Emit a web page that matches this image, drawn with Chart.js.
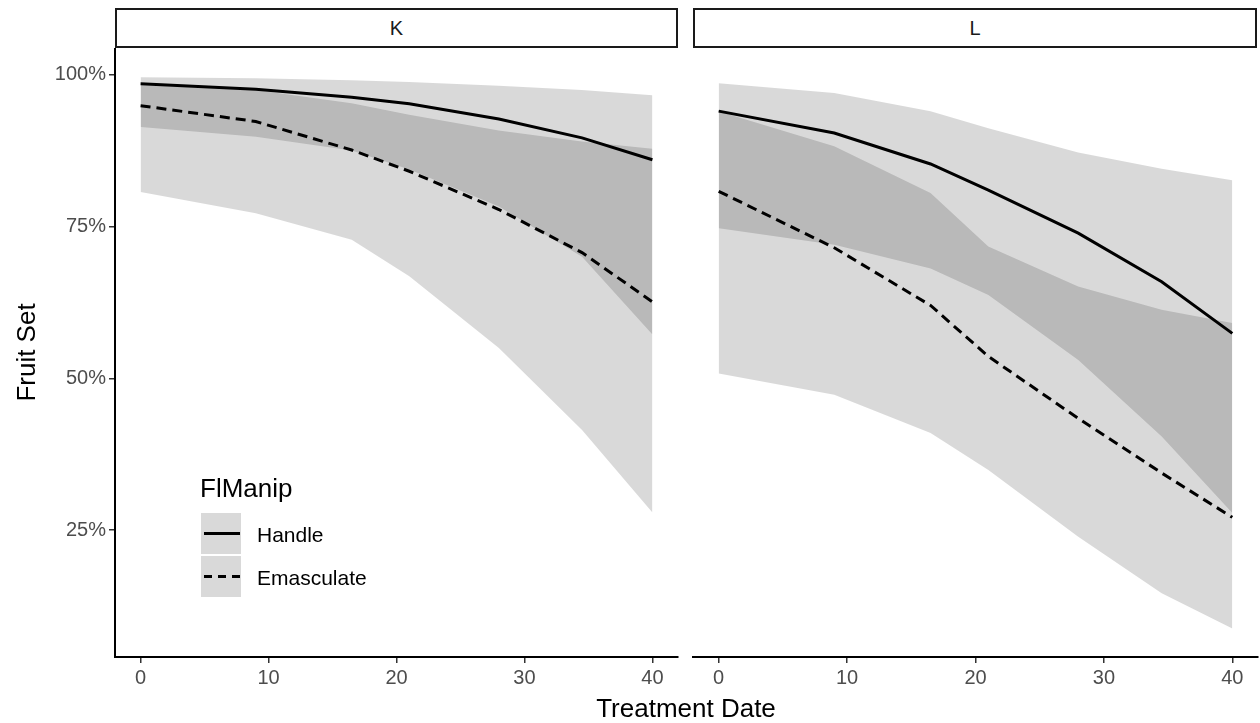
<!DOCTYPE html>
<html>
<head>
<meta charset="utf-8">
<script src="https://cdn.jsdelivr.net/npm/chart.js@4/dist/chart.umd.min.js"></script>
<style>
  body { margin: 0; background: #fff; font-family: "Liberation Sans", Arial, sans-serif; }
  #wrap { position: relative; width: 1260px; height: 723px; overflow: hidden; }
  canvas { position: absolute; }
  .strip { position: absolute; top: 8px; height: 40px; box-sizing: border-box; border: 2px solid #1a1a1a;
           background: #fff; font-size: 20px; color: #1a1a1a; text-align: center; line-height: 36px; }
  .txt { position: absolute; white-space: nowrap; color: #000; }
  .key { position: absolute; left: 201px; width: 40px; height: 41px; background: rgba(0,0,0,0.15); }
  .keyline { position: absolute; left: 3px; width: 36px; height: 3px; top: 19px; }
</style>
</head>
<body>
<div id="wrap">
  <div class="strip" style="left:115px;width:563px;">K</div>
  <div class="strip" style="left:693px;width:564px;">L</div>
  <canvas id="chartK" width="685" height="652" style="left:0;top:48px;"></canvas>
  <canvas id="chartL" width="575" height="652" style="left:685px;top:48px;"></canvas>
  <div class="txt" style="left:0;width:1372px;text-align:center;top:695px;font-size:26px;line-height:26px;">Treatment Date</div>
  <div class="txt" style="left:200px;top:475px;font-size:26px;line-height:26px;">FlManip</div>
  <div class="key" style="top:513px;"><div class="keyline" style="background:#000;"></div></div>
  <div class="key" style="top:556px;"><div class="keyline" style="background:repeating-linear-gradient(90deg,#000 0 8px,transparent 8px 14px);"></div></div>
  <div class="txt" style="left:257px;top:524px;font-size:21px;line-height:21px;">Handle</div>
  <div class="txt" style="left:257px;top:567px;font-size:21px;line-height:21px;">Emasculate</div>
</div>
<script>
// treatment dates (x)
const dates = [0, 9, 16.5, 21, 28, 34.5, 40];
const xTicks = [0, 10, 20, 30, 40];
const yTicks = [25, 50, 75, 100];

// panel K (fruit set, %)
const kHandle   = [98.5, 97.6, 96.3, 95.2, 92.7, 89.6, 86.0];
const kHandleHi = [99.6, 99.4, 99.1, 98.8, 98.2, 97.5, 96.6];
const kHandleLo = [91.4, 89.8, 87.5, 84.4, 78.3, 70.0, 57.2];
const kEmasc    = [94.9, 92.3, 87.6, 84.1, 77.8, 70.7, 62.6];
const kEmascHi  = [98.3, 97.5, 95.3, 93.4, 90.8, 89.0, 87.8];
const kEmascLo  = [80.7, 77.2, 72.8, 66.8, 55.0, 41.5, 27.9];

// panel L
const lHandle   = [94.0, 90.4, 85.3, 81.0, 73.9, 65.9, 57.4];
const lHandleHi = [98.6, 97.0, 94.0, 91.2, 87.2, 84.5, 82.6];
const lHandleLo = [74.7, 72.0, 68.1, 63.7, 53.0, 40.4, 27.8];
const lEmasc    = [80.8, 71.5, 62.0, 53.6, 43.4, 34.4, 27.1];
const lEmascHi  = [94.0, 88.2, 80.5, 71.7, 65.1, 61.3, 59.1];
const lEmascLo  = [50.8, 47.3, 41.0, 34.9, 23.9, 14.6, 8.8];

const FONT = '"Liberation Sans", Arial, sans-serif';
const ribbonFill = 'rgba(0,0,0,0.15)';

function pts(arr) {
    return dates.map((d, i) => ({ x: d, y: arr[i] }));
}

function lineSet(label, arr, dash) {
    return { label: label, data: pts(arr), borderColor: '#000', borderWidth: 3, borderDash: dash,
             pointRadius: 0, fill: false, tension: 0 };
}

function ribbon(hi, lo) {
    return [
        { data: pts(hi), borderWidth: 0, pointRadius: 0, fill: '+1', backgroundColor: ribbonFill, tension: 0 },
        { data: pts(lo), borderWidth: 0, pointRadius: 0, fill: false, tension: 0 }
    ];
}

function makeChart(id, h, hHi, hLo, e, eHi, eLo, showY) {
    const datasets = [
        lineSet('Handle', h, []),
        lineSet('Emasculate', e, [10, 6])
    ].concat(ribbon(hHi, hLo), ribbon(eHi, eLo));

    const ctx = document.getElementById(id).getContext('2d');
    return new Chart(ctx, {
        type: 'line',
        data: { datasets: datasets },
        options: {
            responsive: false,
            animation: false,
            layout: { padding: showY ? { left: 0, right: 7, top: 0, bottom: 0 } : { left: 8, right: 2, top: 0, bottom: 0 } },
            plugins: { legend: { display: false }, tooltip: { enabled: false } },
            scales: {
                x: {
                    type: 'linear', min: -2, max: 42,
                    afterBuildTicks: function(s) { s.ticks = xTicks.map(v => ({ value: v })); },
                    afterFit: function(s) { s.height = 43; s.paddingLeft = 0; s.paddingRight = 0; },
                    border: { display: true, color: '#000', width: 2 },
                    grid: { drawOnChartArea: false, drawTicks: true, tickLength: 6, color: '#333', lineWidth: 1.5 },
                    ticks: { font: { family: FONT, size: 20 }, color: '#4d4d4d', padding: 3, maxRotation: 0 }
                },
                y: {
                    type: 'linear', min: 4.1, max: 104.4, display: showY,
                    afterBuildTicks: function(s) { s.ticks = yTicks.map(v => ({ value: v })); },
                    afterFit: function(s) { s.width = showY ? 115 : 0; s.paddingTop = 0; s.paddingBottom = 0; },
                    border: { display: true, color: '#000', width: 2 },
                    grid: { drawOnChartArea: false, drawTicks: true, tickLength: 6, color: '#333', lineWidth: 1.5 },
                    ticks: { font: { family: FONT, size: 20 }, color: '#4d4d4d', padding: 3,
                             callback: function(v) { return v + '%'; } },
                    title: { display: true, text: 'Fruit Set', color: '#000', font: { family: FONT, size: 26 },
                             padding: { top: 12, bottom: 0 } }
                }
            }
        }
    });
}

makeChart('chartK', kHandle, kHandleHi, kHandleLo, kEmasc, kEmascHi, kEmascLo, true);
makeChart('chartL', lHandle, lHandleHi, lHandleLo, lEmasc, lEmascHi, lEmascLo, false);
</script>
</body>
</html>
